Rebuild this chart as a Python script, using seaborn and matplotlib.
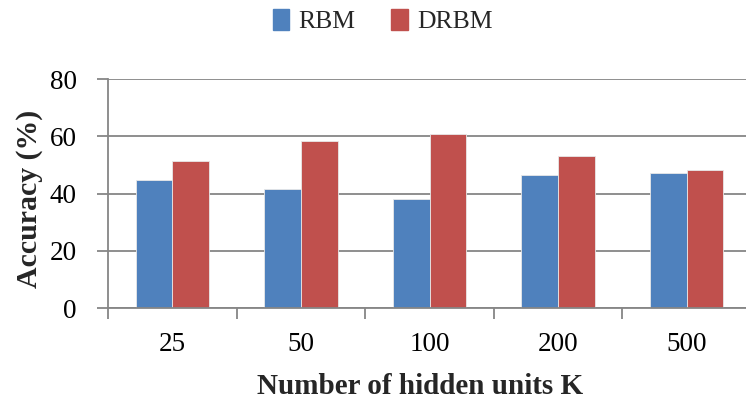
import matplotlib
matplotlib.use("Agg")
import matplotlib.pyplot as plt
import seaborn as sns
import pandas as pd

# Accuracy per number of hidden units
hidden_units = ["25", "50", "100", "200", "500"]
rbm_acc = [44.8, 41.5, 38.1, 46.6, 47.3]
drbm_acc = [51.3, 58.4, 60.7, 53.2, 48.3]
models = ["RBM", "DRBM"]
colors = ["#4F81BD", "#C0504D"]

df = pd.DataFrame({
    "K": hidden_units * 2,
    "acc": rbm_acc + drbm_acc,
    "model": [models[0]] * len(hidden_units) + [models[1]] * len(hidden_units),
})

sns.set_theme(style="white")
plt.rcParams["font.family"] = ["Liberation Serif", "DejaVu Serif"]

fig = plt.figure(figsize=(7.46, 4.01), dpi=100)
ax = fig.add_axes([108 / 746, 93 / 401, 643 / 746, 228.7 / 401])

sns.barplot(data=df, x="K", y="acc", hue="model", order=hidden_units,
            hue_order=models, palette=colors, width=0.57, saturation=1,
            edgecolor="#E8E8E8", linewidth=0.6, ax=ax, legend=True)

ax.set_xlim(-0.5, 4.5)
ax.set_ylim(0, 80)
ax.set_yticks([0, 20, 40, 60, 80])
ax.set_axisbelow(True)
ax.yaxis.grid(True, color="#868686", linewidth=1.3)
ax.xaxis.grid(False)

for side in ["top", "right"]:
    ax.spines[side].set_visible(False)
for side in ["left", "bottom"]:
    ax.spines[side].set_color("#868686")
    ax.spines[side].set_linewidth(1.3)

# category separators as tick marks below the axis
ax.set_xticks([i - 0.5 for i in range(len(hidden_units) + 1)], minor=True)
ax.tick_params(axis="x", which="minor", length=8, width=1.3, color="#868686",
               direction="out", bottom=True)
ax.tick_params(axis="x", which="major", length=0, pad=17, labelsize=19.5,
               labelcolor="black")
ax.tick_params(axis="y", which="major", length=8, width=1.3, color="#868686",
               direction="out", left=True, pad=14.5, labelsize=19.5,
               labelcolor="black")

ax.set_xlabel("Number of hidden units K", fontsize=21, fontweight="bold")
ax.set_ylabel("Accuracy (%)", fontsize=21.5, fontweight="bold")
ax.xaxis.set_label_coords(0.485, -0.283)
ax.yaxis.set_label_coords(-0.101, 0.479)

ax.get_legend().remove()
handles = [plt.Rectangle((0, 0), 1, 1, color=c) for c in colors]
fig.legend(handles, models, loc="center", bbox_to_anchor=(382.5 / 746, 0.948),
           ncol=2, frameon=False, fontsize=18.5, handlelength=0.65,
           handleheight=0.9, handletextpad=0.35, columnspacing=1.4)

fig.savefig("out.png", dpi=100)
